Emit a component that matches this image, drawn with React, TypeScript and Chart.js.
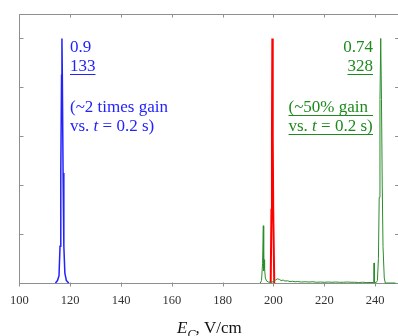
import React, { useEffect, useRef } from 'react';
import { Chart, registerables } from 'chart.js';

Chart.register(...registerables);

// ---- data ----
const xTicks = [100, 120, 140, 160, 180, 200, 220, 240];
const yTicks = [0, 0.2, 0.4, 0.6, 0.8, 1.0];

const blueX = [114.2, 115.0, 115.6, 116.0, 116.3, 116.6, 116.75, 116.9, 117.2, 117.5, 117.9, 118.5, 119.4];
const blueY = [0, 0.01, 0.03, 0.15, 0.45, 0.85, 1.0, 0.85, 0.45, 0.15, 0.04, 0.01, 0];

const redX = [198.9, 199.2, 199.4, 199.55, 199.7, 199.9, 200.3];
const redY = [0, 0.3, 0.6, 1.0, 0.6, 0.3, 0];

const greenX = [194.8, 195.3, 195.7, 196.0, 196.15, 196.3, 196.5, 196.8, 197.3, 198, 199, 200, 200.8, 201.5, 202.3, 203, 203.8, 204.5, 205.5, 206.5, 207.5, 208.5, 209.5, 211, 212.5, 214, 215.5, 217, 218.5, 220, 221.5, 223, 224.5, 226, 227.5, 229, 230.5, 232, 233.5, 235, 236.5, 238, 239.5, 239.6, 239.7, 240.5, 240.9, 241.3, 241.6, 241.9, 242.2, 242.5, 242.8, 243.1, 243.6, 244.0, 248];
const greenY = [0, 0.01, 0.08, 0.234, 0.05, 0.095, 0.06, 0.02, 0.008, 0.004, 0.003, 0.006, 0.012, 0.017, 0.015, 0.01, 0.012, 0.008, 0.009, 0.006, 0.007, 0.005, 0.006, 0.004, 0.005, 0.004, 0.005, 0.003, 0.004, 0.003, 0.004, 0.003, 0.004, 0.003, 0.003, 0.004, 0.003, 0.003, 0.002, 0.003, 0.002, 0.002, 0.002, 0.082, 0.002, 0.003, 0.01, 0.1, 0.35, 0.75, 1.0, 0.75, 0.4, 0.15, 0.02, 0, 0];

const blueText = ['0.9', '133', '(~2 times gain'];
const greenText = ['0.74', '328', '(~50% gain'];
const vsText = ['vs. ', 't', ' = 0.2 s)'];
const axisTitle = ['E', 'C', ', V/cm'];

const BLUE = '#2222ff';
const RED = '#ff0000';
const GREEN = '#2a8c2a';
const GREEN_TXT = '#1e8a1e';
const AXIS = '#8f8f8f';
const SERIF = '"Liberation Serif", "Times New Roman", serif';

function pts(xs: number[], ys: number[]) {
  return xs.map((x, i) => ({ x, y: ys[i] }));
}

type Seg = [string, boolean];

function drawSegs(ctx: CanvasRenderingContext2D, segs: Seg[], x: number, y: number, size: number, align: 'left' | 'right', color: string, underline?: { from?: number; to?: number }) {
  let total = 0;
  const widths = segs.map(([t, it]) => {
    ctx.font = `${it ? 'italic ' : ''}${size}px ${SERIF}`;
    const w = ctx.measureText(t).width;
    total += w;
    return w;
  });
  let cx = align === 'right' ? x - total : x;
  const start = cx;
  ctx.fillStyle = color;
  ctx.textAlign = 'left';
  ctx.textBaseline = 'alphabetic';
  segs.forEach(([t, it], i) => {
    ctx.font = `${it ? 'italic ' : ''}${size}px ${SERIF}`;
    ctx.fillText(t, cx, y);
    cx += widths[i];
  });
  if (underline) {
    const a = underline.from ?? start;
    const b = underline.to ?? cx;
    ctx.strokeStyle = color;
    ctx.lineWidth = 1;
    ctx.beginPath();
    ctx.moveTo(a, Math.round(y + 3) + 0.5);
    ctx.lineTo(b, Math.round(y + 3) + 0.5);
    ctx.stroke();
  }
}

const framePlugin = {
  id: 'frame',
  beforeDatasetsDraw(chart: any) {
    const { ctx, chartArea: a, scales } = chart;
    const x = scales.x, y = scales.y;
    const L = Math.round(a.left) + 0.5;
    const T = Math.round(a.top) + 0.5;
    const B = Math.round(a.bottom) + 0.5;
    const R = a.right;
    ctx.save();
    ctx.strokeStyle = AXIS;
    ctx.lineWidth = 1;
    ctx.beginPath();
    ctx.moveTo(L, T); ctx.lineTo(R, T);
    ctx.moveTo(L, T); ctx.lineTo(L, B);
    ctx.moveTo(L, B); ctx.lineTo(R, B);
    xTicks.forEach((v) => {
      const px = Math.round(x.getPixelForValue(v)) + 0.5;
      ctx.moveTo(px, T); ctx.lineTo(px, T + 3);
      ctx.moveTo(px, B - 1); ctx.lineTo(px, B + 3);
    });
    yTicks.forEach((v) => {
      const py = Math.round(y.getPixelForValue(v)) + 0.5;
      ctx.moveTo(L, py); ctx.lineTo(L + 4, py);
      ctx.moveTo(R, py); ctx.lineTo(R - 3, py);
    });
    ctx.stroke();
    ctx.restore();
  },
  afterDraw(chart: any) {
    const { ctx } = chart;
    ctx.save();
    const fs = 17;
    // blue annotation
    drawSegs(ctx, [[blueText[0], false]], 70, 52, fs, 'left', BLUE);
    drawSegs(ctx, [[blueText[1], false]], 70, 71, fs, 'left', BLUE, {});
    drawSegs(ctx, [[blueText[2], false]], 70, 111.5, fs, 'left', BLUE);
    drawSegs(ctx, [[vsText[0], false], [vsText[1], true], [vsText[2], false]], 70, 130.5, fs, 'left', BLUE);
    // green annotation
    drawSegs(ctx, [[greenText[0], false]], 373, 52, fs, 'right', GREEN_TXT);
    drawSegs(ctx, [[greenText[1], false]], 373, 71, fs, 'right', GREEN_TXT, {});
    drawSegs(ctx, [[greenText[2], false]], 288.5, 111.5, fs, 'left', GREEN_TXT, { from: 288.5, to: 373 });
    drawSegs(ctx, [[vsText[0], false], [vsText[1], true], [vsText[2], false]], 288.5, 130.5, fs, 'left', GREEN_TXT, { from: 288.5, to: 373 });
    // axis title
    ctx.fillStyle = '#111';
    ctx.textAlign = 'left';
    ctx.textBaseline = 'alphabetic';
    let tx = 177;
    ctx.font = `italic 17px ${SERIF}`;
    ctx.fillText(axisTitle[0], tx, 333);
    tx += ctx.measureText(axisTitle[0]).width;
    ctx.font = `italic 12px ${SERIF}`;
    ctx.fillText(axisTitle[1], tx, 338);
    tx += ctx.measureText(axisTitle[1]).width;
    ctx.font = `17px ${SERIF}`;
    ctx.fillText(axisTitle[2], tx, 333);
    ctx.restore();
  },
};

export default function App() {
  const ref = useRef<HTMLCanvasElement>(null);
  useEffect(() => {
    const canvas = ref.current!;
    const chart = new Chart(canvas, {
      type: 'scatter',
      data: {
        datasets: [
          { data: pts(blueX, blueY), borderColor: BLUE, borderWidth: 1.5, showLine: true, pointRadius: 0, tension: 0, clip: false } as any,
          { data: pts(greenX, greenY), borderColor: GREEN, borderWidth: 1, showLine: true, pointRadius: 0, tension: 0, clip: false } as any,
          { data: pts(redX, redY), borderColor: RED, borderWidth: 2, showLine: true, pointRadius: 0, tension: 0, clip: false } as any,
        ],
      },
      options: {
        responsive: false,
        animation: false,
        devicePixelRatio: 1,
        layout: { padding: { left: 19, right: 0, top: 14, bottom: 0 } },
        plugins: { legend: { display: false }, tooltip: { enabled: false } },
        scales: {
          x: {
            type: 'linear',
            position: 'bottom',
            min: 100,
            max: 249,
            grid: { display: false, drawTicks: false },
            border: { display: false },
            afterBuildTicks: (s: any) => { s.ticks = xTicks.map((v) => ({ value: v })); },
            afterFit: (s: any) => { s.height = 336 - 283; },
            ticks: {
              autoSkip: false,
              maxRotation: 0,
              padding: 10,
              color: '#333',
              font: { family: SERIF, size: 12.5 },
              callback: (v: any) => String(v),
            },
          },
          y: {
            type: 'linear',
            min: 0,
            max: 1.1,
            display: false,
          },
        },
      },
      plugins: [framePlugin],
    });
    return () => chart.destroy();
  }, []);
  return (
    <div style={{ position: 'absolute', left: 0, top: 0, width: 398, height: 336, background: '#fff' }}>
      <canvas ref={ref} width={398} height={336} style={{ display: 'block' }} />
    </div>
  );
}
